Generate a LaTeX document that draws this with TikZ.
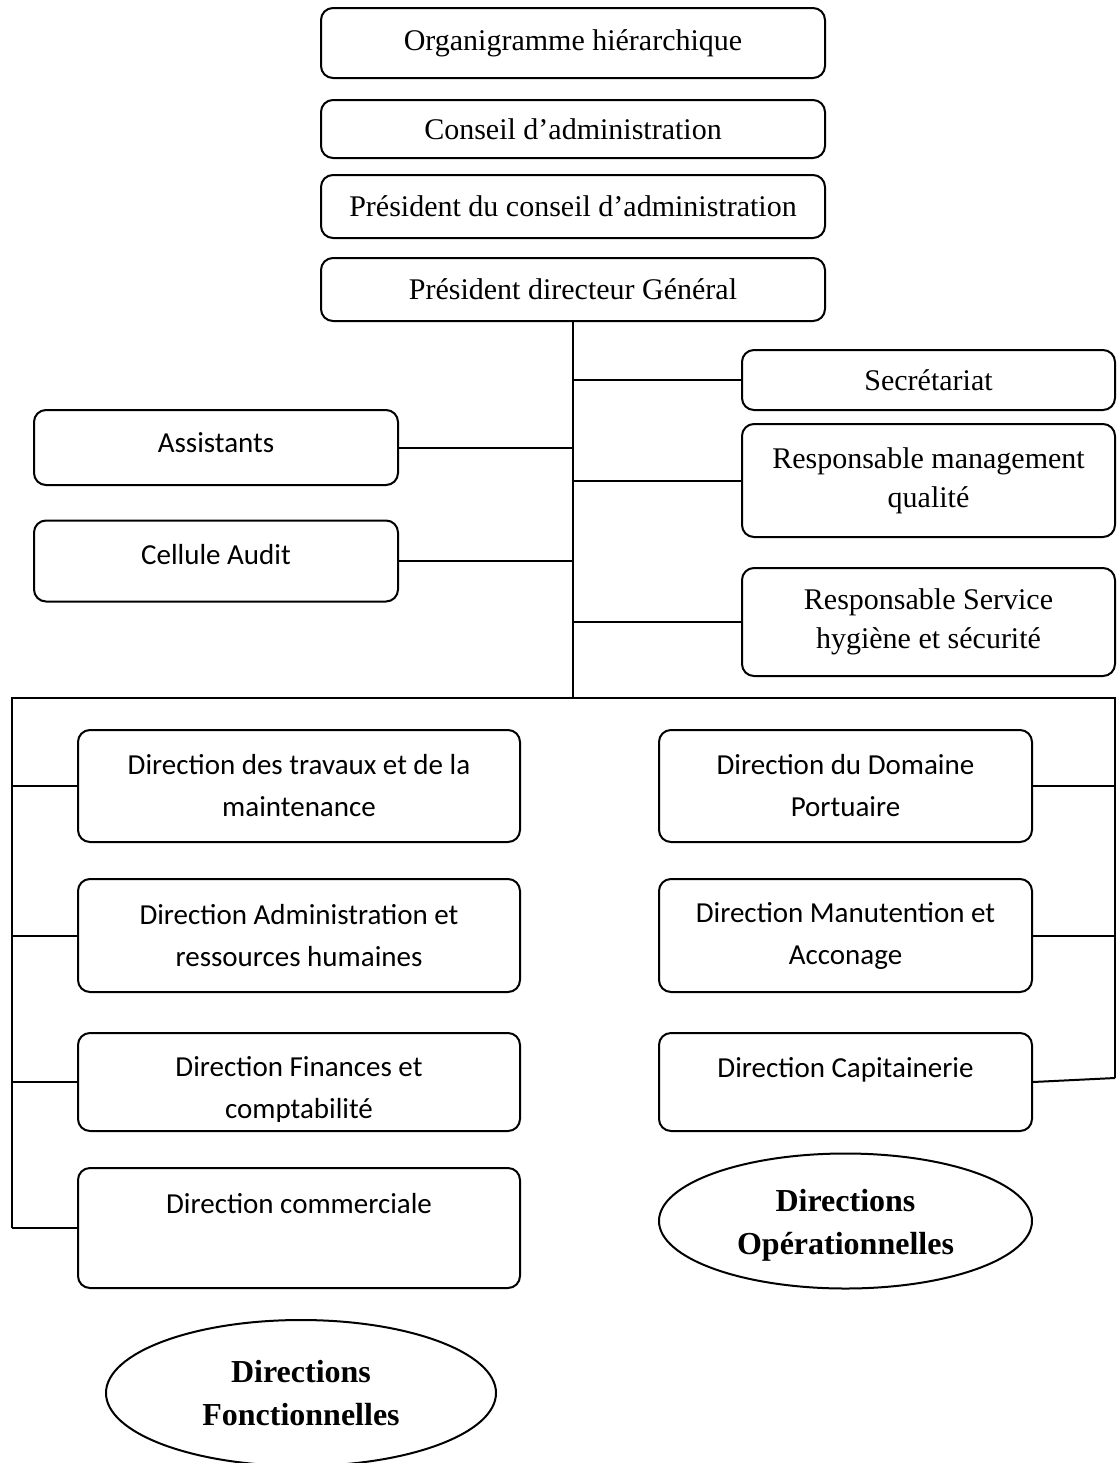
\documentclass[tikz,border=0pt]{standalone}
\usepackage{fontspec}
\setmainfont{Liberation Serif}
\newfontfamily\calibri{Carlito}
\usepackage{tikz}
\usetikzlibrary{shapes.geometric, positioning}

\begin{document}
\begin{tikzpicture}[x=0.5pt, y=-0.5pt,
          bx/.style={draw, rectangle, rounded corners=6pt, line width=1pt,
                     inner sep=0pt, align=center},
          tnr/.style={bx, font=\fontsize{15}{19.5}\selectfont},
          cal/.style={bx, font=\calibri\fontsize{14.5}{21}\selectfont},
          dir/.style={cal, minimum height=56pt},
          ell/.style={draw, ellipse, line width=1pt, inner sep=0pt, align=center,
                      font=\bfseries\fontsize{16}{21.5}\selectfont},
          ln/.style={draw, line width=1pt}
        ]
        \path[use as bounding box, fill=white] (0,0) rectangle (1120,1463);

        % direction generale
        \node[tnr, minimum width=252pt, minimum height=35pt]
              (org) at (573, 43) {Organigramme hiérarchique};
        \node[tnr, minimum width=252pt, minimum height=29pt]
              (ca) at (573, 129) {Conseil d’administration};
        \node[tnr, minimum width=252pt, minimum height=31.5pt]
              (pca) at (573, 206.5) {Président du conseil d’administration};
        \node[tnr, minimum width=252pt, minimum height=31.5pt]
              (pdg) at (573, 289.5) {Président directeur Général};

        % rattachements
        \node[tnr, minimum width=186.5pt, minimum height=30pt]
              (sec) at (928.5, 380) {Secrétariat};
        \node[tnr, minimum width=186.5pt, minimum height=56.5pt]
              (rmq) at (928.5, 480.5) {Responsable management\\qualité};
        \node[tnr, minimum width=186.5pt, minimum height=54pt]
              (rshs) at (928.5, 622) {Responsable Service\\hygiène et sécurité};
        \node[cal, minimum width=182pt, minimum height=37.5pt]
              (ass) at (216, 447.5) {Assistants\\[-16pt]\mbox{}};
        \node[cal, minimum width=182pt, minimum height=40.5pt]
              (aud) at (216, 561) {Cellule Audit\\[-14pt]\mbox{}};

        % directions fonctionnelles
        \node[dir, minimum width=221pt] (dtm) at (299, 786)
              {Direction des travaux et de la\\maintenance};
        \node[dir, minimum width=221pt, minimum height=56.5pt] (dar) at (299, 935.5)
              {Direction Administration et\\ressources humaines};
        \node[dir, minimum width=221pt, minimum height=49pt,
              path picture={
                \clip (path picture bounding box.north west)
                      rectangle ([yshift=5pt]path picture bounding box.south east);
                \node[align=center, font=\calibri\fontsize{14.5}{21}\selectfont]
                      at ([yshift=-4pt]path picture bounding box.center)
                      {Direction Finances et\\comptabilité};
              }] (dfc) at (299, 1082) {};
        \node[dir, minimum width=221pt, minimum height=60pt] (dcom) at (299, 1228)
              {Direction commerciale\\[4pt]\mbox{}};

        % directions operationnelles
        \node[dir, minimum width=186.5pt] (ddp) at (845.5, 786)
              {Direction du Domaine\\Portuaire};
        \node[dir, minimum width=186.5pt, minimum height=56.5pt] (dma) at (845.5, 935.5)
              {Direction Manutention et\\Acconage};
        \node[dir, minimum width=186.5pt, minimum height=49pt] (dcap) at (845.5, 1082)
              {Direction Capitainerie\\[-6pt]\mbox{}};

        \node[ell, minimum width=186.5pt, minimum height=67.5pt]
              (eop) at (845.5, 1221) {\mbox{}\\[-6.5pt]Directions\\Opérationnelles};
        \node[ell, minimum width=195pt, minimum height=73pt]
              (efn) at (301, 1393) {Directions\\Fonctionnelles};

        \coordinate (bus) at (573, 698);
        \coordinate (lft) at (12, 698);
        \coordinate (rgt) at (1115, 698);

        \draw[ln] (pdg.south) -- (bus);
        \foreach \n in {sec, rmq, rshs}
          \draw[ln] (bus |- \n.west) -- (\n.west);
        \foreach \n in {ass, aud}
          \draw[ln] (\n.east) -- (bus |- \n.east);

        \draw[ln] (lft |- dcom.west) -- (lft) -- (rgt)
                  -- ([yshift=2pt]rgt |- dcap.east);
        \foreach \n in {dtm, dar, dfc, dcom}
          \draw[ln] (lft |- \n.west) -- (\n.west);
        \foreach \n in {ddp, dma}
          \draw[ln] (\n.east) -- (rgt |- \n.east);
        \draw[ln] (dcap.east) -- ([yshift=2pt]rgt |- dcap.east);
      \end{tikzpicture}
\end{document}
